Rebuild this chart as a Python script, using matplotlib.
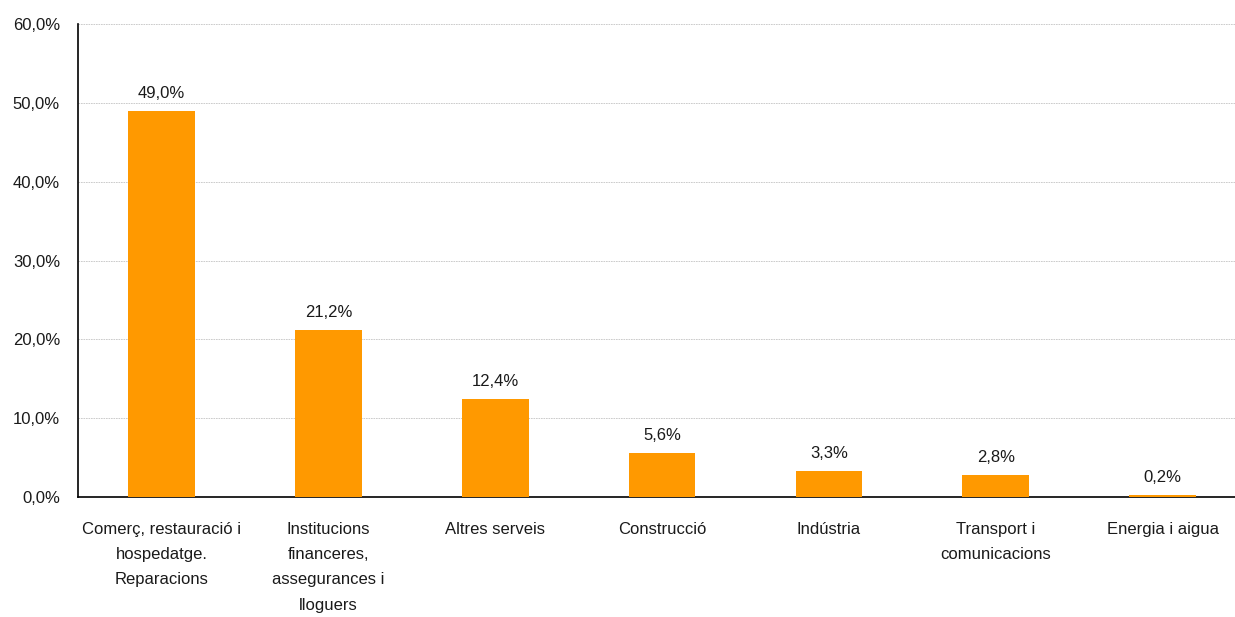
import matplotlib
matplotlib.use("Agg")
import matplotlib.pyplot as plt
from matplotlib.ticker import FuncFormatter

categories = ["Comerç, restauració i\nhospedatge.\nReparacions",
              "Institucions\nfinanceres,\nassegurances i\nlloguers",
              "Altres serveis", "Construcció", "Indústria",
              "Transport i\ncomunicacions", "Energia i aigua"]
values = [49.0, 21.2, 12.4, 5.6, 3.3, 2.8, 0.2]
yticks = [0, 10, 20, 30, 40, 50, 60]

plt.rcParams['font.family'] = ['Liberation Sans', 'DejaVu Sans']

fig = plt.figure(figsize=(12.35, 6.17), dpi=100)
ax = fig.add_axes([0.0632, 0.1945, 0.9457, 0.7665])

x = range(len(categories))
ax.bar(x, values, width=0.4, color='#FF9900', zorder=3)
for xi, v in zip(x, values):
    ax.text(xi, v + 1.3, f"{v:.1f}%".replace('.', ','), ha='center', va='bottom',
            fontsize=12, color='#1a1a1a')

ax.set_xlim(-0.5, len(categories) - 0.5)
ax.set_ylim(0, 60)
ax.set_yticks(yticks)
ax.yaxis.set_major_formatter(FuncFormatter(lambda v, p: f"{v:.1f}%".replace('.', ',')))
ax.set_xticks(list(x))
ax.set_xticklabels(categories, fontsize=12, linespacing=1.85, color='#1a1a1a')
ax.tick_params(axis='y', labelsize=12, length=0, pad=13, colors='#1a1a1a')
ax.tick_params(axis='x', length=0, pad=18)
ax.grid(axis='y', color='#c4c4c4', linestyle=(0, (2, 1)), linewidth=0.6, zorder=0)
for s in ['top', 'right']:
    ax.spines[s].set_visible(False)
ax.spines['left'].set_linewidth(1.2)
ax.spines['bottom'].set_linewidth(1.2)

fig.savefig("out.png", dpi=100)
